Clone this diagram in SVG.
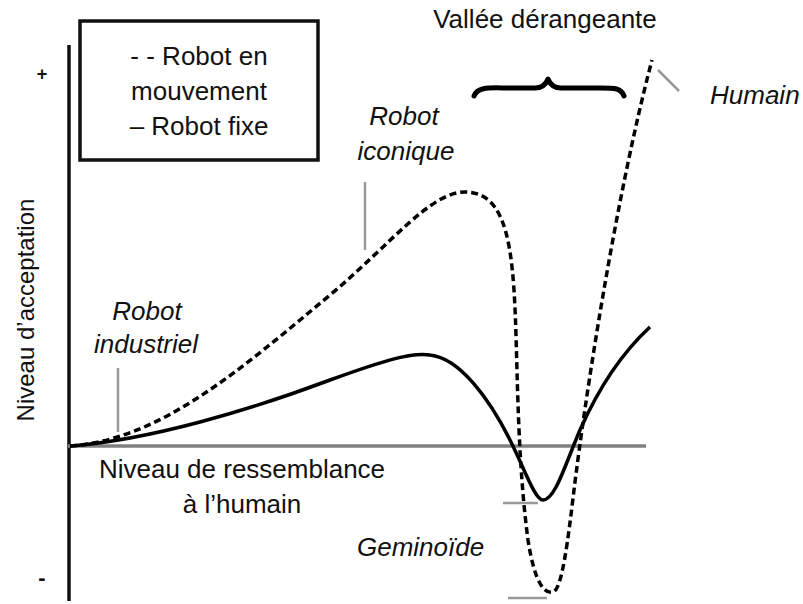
<svg xmlns="http://www.w3.org/2000/svg" width="803" height="604" viewBox="0 0 803 604">
<style>
text{font-family:"Liberation Sans",Arial,sans-serif;font-size:26px;fill:#111}
.it{font-style:italic}
.tick{stroke:#999;stroke-width:2.5;fill:none}
.curve{fill:none;stroke:#000;stroke-width:3.5;stroke-linecap:butt}
</style>
<rect width="803" height="604" fill="#fff"/>
<g id="axes">
<line x1="69" y1="45" x2="69" y2="601" stroke="#111" stroke-width="3.5"/>
<line x1="68" y1="446" x2="646" y2="446" stroke="#808080" stroke-width="3.5"/>
<text x="42" y="80" text-anchor="middle" style="font-weight:bold;font-size:18px">+</text>
<text x="42" y="585" text-anchor="middle" style="font-weight:bold;font-size:22px">-</text>
<text transform="translate(34,310) rotate(-90)" text-anchor="middle" style="font-size:24px">Niveau d’acceptation</text>
<text x="242" y="478" text-anchor="middle">Niveau de ressemblance</text>
<text x="242" y="513" text-anchor="middle">à l’humain</text>
</g>
<g id="legend">
<rect x="80" y="21" width="238" height="139" fill="#fff" stroke="#111" stroke-width="3.5"/>
<text x="199" y="65" text-anchor="middle">- - Robot en</text>
<text x="199" y="100" text-anchor="middle">mouvement</text>
<text x="199" y="135" text-anchor="middle">– Robot fixe</text>
</g>
<g id="connectors">
<path class="curve" d="M70,446 C160,440 240,370 330,295 C390,245 430,192 465,192 C500,192 510,230 514,290 C518,350 516,450 528,540 C535,585 545,594 553,592 C562,590 568,540 574,490 C585,400 615,200 652,60" stroke-width="4" stroke-dasharray="7,4"/>
<path class="curve" d="M70,446 C150,440 250,410 330,380 C380,362 410,352 430,355 C460,358 490,400 510,440 C525,470 535,500 543,500 C555,500 565,465 580,430 C600,385 625,350 650,327"/>
</g>
<g id="brace">
<path d="M474,96 C478,86 490,88 510,88 L535,88 C543,88 546,84 548,79 C550,84 553,88 561,88 L600,88 C615,88 621,88 624,96" fill="none" stroke="#000" stroke-width="5" stroke-linecap="round" stroke-linejoin="round"/>
<text x="545" y="28" text-anchor="middle">Vallée dérangeante</text>
</g>
<g id="humain">
<line class="tick" x1="658" y1="70" x2="679" y2="91"/>
<text class="it" x="710" y="104">Humain</text>
</g>
<g id="iconique">
<line class="tick" x1="365" y1="182" x2="365" y2="250"/>
<text class="it" x="404" y="125" text-anchor="middle">Robot</text>
<text class="it" x="406" y="160" text-anchor="middle">iconique</text>
</g>
<g id="industriel">
<line class="tick" x1="118" y1="368" x2="118" y2="432"/>
<text class="it" x="147" y="320" text-anchor="middle">Robot</text>
<text class="it" x="146" y="353" text-anchor="middle">industriel</text>
</g>
<g id="geminoide">
<line class="tick" x1="503" y1="503" x2="538" y2="503"/>
<line class="tick" x1="508" y1="598" x2="547" y2="598"/>
<text class="it" x="357" y="556" style="font-size:26px">Geminoïde</text>
</g>
</svg>
